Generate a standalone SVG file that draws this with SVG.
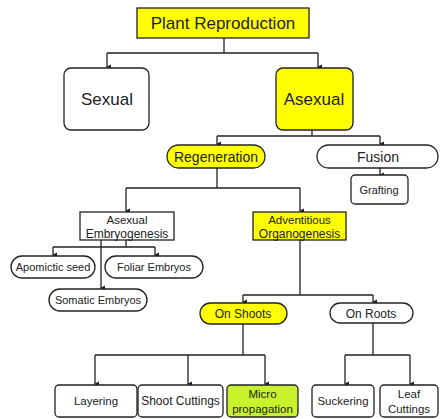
<svg xmlns="http://www.w3.org/2000/svg" width="442" height="419" viewBox="0 0 442 419">
<defs>
<marker id="ah" markerWidth="6" markerHeight="6" refX="3" refY="5" orient="auto" markerUnits="userSpaceOnUse" viewBox="0 0 6 6">
<path d="M0.5,1 L5.5,1 L3,6 Z" fill="#222"/>
</marker>
<style>
.box{stroke:#222;stroke-width:1.3}
.w{fill:#fff}
.y{fill:#ffff00}
.g{fill:#c8f22c}
.t{font-family:"Liberation Sans",Arial,sans-serif;fill:#222;text-anchor:middle}
.c{fill:none;stroke:#222;stroke-width:1.3}
</style>
</defs>
<rect width="442" height="419" fill="#fff"/>
<g id="connectors">
<path class="c" d="M224,38 V53 M107,53 H318"/>
<path class="c" d="M107,53 V67" marker-end="url(#ah)"/>
<path class="c" d="M318,53 V67" marker-end="url(#ah)"/>
<path class="c" d="M312,130 V136 M217,136 H380"/>
<path class="c" d="M217,136 V144" marker-end="url(#ah)"/>
<path class="c" d="M380,136 V144" marker-end="url(#ah)"/>
<path class="c" d="M380,168 V175" marker-end="url(#ah)"/>
<path class="c" d="M217,168 V188 M126,188 H300"/>
<path class="c" d="M126,188 V211" marker-end="url(#ah)"/>
<path class="c" d="M300,188 V211" marker-end="url(#ah)"/>
<path class="c" d="M126,240 V247 M53,247 H155"/>
<path class="c" d="M53,247 V255" marker-end="url(#ah)"/>
<path class="c" d="M155,247 V255" marker-end="url(#ah)"/>
<path class="c" d="M101,240 V288" marker-end="url(#ah)"/>
<path class="c" d="M300,240 V295 M243,295 H373"/>
<path class="c" d="M243,295 V302" marker-end="url(#ah)"/>
<path class="c" d="M373,295 V302" marker-end="url(#ah)"/>
<path class="c" d="M243,324 V355 M95,355 H265"/>
<path class="c" d="M95,355 V384" marker-end="url(#ah)"/>
<path class="c" d="M188,355 V384" marker-end="url(#ah)"/>
<path class="c" d="M265,355 V384" marker-end="url(#ah)"/>
<path class="c" d="M373,323 V355 M345,355 H410"/>
<path class="c" d="M345,355 V384" marker-end="url(#ah)"/>
<path class="c" d="M410,355 V384" marker-end="url(#ah)"/>
</g>
<g id="plant-reproduction">
<rect class="box y" x="137" y="8" width="172" height="30"/>
<text class="t" x="223" y="29" font-size="17">Plant Reproduction</text>
</g>
<g id="sexual">
<rect class="box w" x="64" y="68" width="85" height="62" rx="7"/>
<text class="t" x="107" y="105" font-size="17">Sexual</text>
</g>
<g id="asexual">
<rect class="box y" x="276" y="68" width="77" height="62" rx="7"/>
<text class="t" x="314" y="105" font-size="17">Asexual</text>
</g>
<g id="regeneration">
<rect class="box y" x="167" y="145" width="98" height="23" rx="11.5"/>
<text class="t" x="216" y="161.5" font-size="14">Regeneration</text>
</g>
<g id="fusion">
<rect class="box w" x="317" y="145" width="121" height="23" rx="11.5"/>
<text class="t" x="378" y="161.5" font-size="14">Fusion</text>
</g>
<g id="grafting">
<rect class="box w" x="351" y="175" width="57" height="29" rx="4"/>
<text class="t" x="379" y="194" font-size="11">Grafting</text>
</g>
<g id="asexual-embryogenesis">
<rect class="box w" x="80" y="212" width="94" height="28"/>
<text class="t" x="127" y="224" font-size="11.5">Asexual</text>
<text class="t" x="127" y="238" font-size="12">Embryogenesis</text>
</g>
<g id="adventitious-organogenesis">
<rect class="box y" x="253" y="212" width="93" height="28"/>
<text class="t" x="299.5" y="224" font-size="11.5">Adventitious</text>
<text class="t" x="299.5" y="238" font-size="12">Organogenesis</text>
</g>
<g id="apomictic-seed">
<rect class="box w" x="11" y="256" width="84" height="22" rx="11"/>
<text class="t" x="53" y="271" font-size="11">Apomictic seed</text>
</g>
<g id="foliar-embryos">
<rect class="box w" x="105" y="256" width="98" height="22" rx="11"/>
<text class="t" x="154" y="271" font-size="11">Foliar Embryos</text>
</g>
<g id="somatic-embryos">
<rect class="box w" x="49" y="289" width="98" height="22" rx="11"/>
<text class="t" x="98" y="304" font-size="11">Somatic Embryos</text>
</g>
<g id="on-shoots">
<rect class="box y" x="200" y="303" width="87" height="21" rx="10.5"/>
<text class="t" x="243" y="318" font-size="12">On Shoots</text>
</g>
<g id="on-roots">
<rect class="box w" x="330" y="303" width="83" height="20" rx="10"/>
<text class="t" x="371" y="317.5" font-size="12">On Roots</text>
</g>
<g id="layering">
<rect class="box w" x="55" y="385" width="82" height="32" rx="4"/>
<text class="t" x="96" y="405" font-size="11.5">Layering</text>
</g>
<g id="shoot-cuttings">
<rect class="box w" x="138" y="385" width="85" height="32" rx="4"/>
<text class="t" x="180.5" y="405" font-size="12">Shoot Cuttings</text>
</g>
<g id="micropropagation">
<rect class="box g" x="227" y="385" width="71" height="32" rx="4"/>
<text class="t" x="262.5" y="398" font-size="11.5">Micro</text>
<text class="t" x="262.5" y="413" font-size="11.5">propagation</text>
</g>
<g id="suckering">
<rect class="box w" x="312" y="385" width="62" height="32" rx="4"/>
<text class="t" x="343" y="405" font-size="11.5">Suckering</text>
</g>
<g id="leaf-cuttings">
<rect class="box w" x="380" y="385" width="58" height="32" rx="4"/>
<text class="t" x="409" y="398" font-size="11.5">Leaf</text>
<text class="t" x="409" y="413" font-size="11.5">Cuttings</text>
</g>
</svg>
